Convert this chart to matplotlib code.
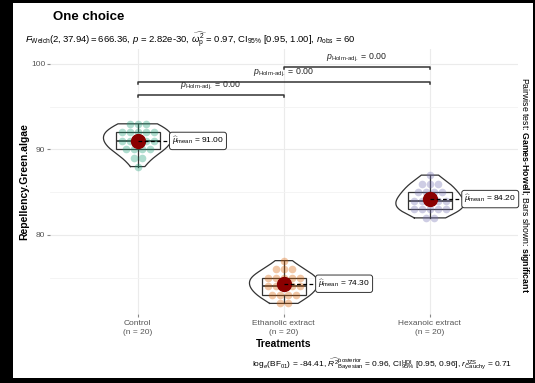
import matplotlib
matplotlib.use("Agg")
import matplotlib.pyplot as plt
from matplotlib.patches import Rectangle
import numpy as np

plt.rcParams['font.family'] = ['Liberation Sans', 'DejaVu Sans']
plt.rcParams['mathtext.fontset'] = 'custom'
plt.rcParams['mathtext.rm'] = 'Liberation Sans'
plt.rcParams['mathtext.it'] = 'Liberation Sans:italic'
plt.rcParams['mathtext.bf'] = 'Liberation Sans:bold'

# repellency scores per treatment, 20 observations each
treatments = ["Control", "Ethanolic extract", "Hexanoic extract"]
control = [93]*3 + [92]*5 + [91]*5 + [90]*4 + [89]*2 + [88]*1
ethanolic = [77]*1 + [76]*3 + [75]*5 + [74]*5 + [73]*4 + [72]*2
hexanoic = [87]*1 + [86]*3 + [85]*4 + [84]*5 + [83]*5 + [82]*2
groups = [control, ethanolic, hexanoic]
means = [91.00, 74.30, 84.20]
colors = ["#1B9E77", "#D95F02", "#7570B3"]

# pairwise comparisons (group index pairs) and their bracket heights
pairs = [(0, 1), (0, 2), (1, 2)]
bracket_y = [96.4, 97.9, 99.65]
pair_p = ["0.00", "0.00", "0.00"]

subtitle = (r"$F_{\mathrm{Welch}}(2, 37.94) = 666.36$, $p$ = 2.82e-30, "
            r"$\widehat{\omega_{\mathrm{p}}^{2}}$ = 0.97, CI$_{95\%}$ [0.95, 1.00], "
            r"$n_{\mathrm{obs}}$ = 60")
caption = (r"log$_{e}$(BF$_{01}$) = -84.41, "
           r"$\widehat{R^{2}}_{\mathrm{Bayesian}}^{\mathrm{posterior}}$ = 0.96, "
           r"CI$_{95\%}^{\mathrm{HDI}}$ [0.95, 0.96], "
           r"$r_{\mathrm{Cauchy}}^{\mathrm{JZS}}$ = 0.71")


def kde(vals, grid):
    vals = np.asarray(vals, float)
    sd = vals.std(ddof=1)
    iqr = np.subtract(*np.percentile(vals, [75, 25]))
    bw = 0.9 * min(sd, iqr / 1.34) * len(vals) ** (-0.2)
    z = (grid[:, None] - vals[None, :]) / bw
    return np.exp(-0.5 * z**2).sum(axis=1) / (len(vals) * bw * np.sqrt(2 * np.pi))


fig = plt.figure(figsize=(5.35, 3.83), dpi=100)
fig.patch.set_facecolor("black")
fig.patches.append(Rectangle((13/535, 5/383), 520/535, 375/383, transform=fig.transFigure,
                             facecolor="white", edgecolor="none", zorder=-10))

ax = fig.add_axes([50/535, 69/383, 467.6/535, 265/383])
ax.set_zorder(1)
ax.set_facecolor("none")
ax.set_xlim(0.4, 3.6)
ax.set_ylim(70.76, 101.75)

ax.set_yticks([80, 90, 100])
ax.set_yticks([75, 85, 95], minor=True)
ax.set_xticks([1, 2, 3])
ax.set_xticklabels([f"{t}\n(n = {len(g)})" for t, g in zip(treatments, groups)],
                   fontsize=6, color="#555555", linespacing=1.3)
ax.tick_params(axis="y", which="major", labelsize=6, labelcolor="#555555", length=2.5,
               width=0.8, color="#888888", pad=1)
ax.tick_params(axis="x", which="major", length=2.5, width=0.8, color="#888888", pad=2)
ax.tick_params(which="minor", length=0)
ax.grid(which="major", color="#EBEBEB", lw=0.8)
ax.grid(which="minor", axis="y", color="#F3F3F3", lw=0.6)
ax.set_axisbelow(True)
for s in ax.spines.values():
    s.set_visible(False)

# violins scaled by a shared maximum density
grids = [np.linspace(min(g), max(g), 200) for g in groups]
dens = [kde(g, gr) for g, gr in zip(groups, grids)]
dmax = max(d.max() for d in dens)
for i, (gr, d) in enumerate(zip(grids, dens)):
    x = i + 1
    w = d / dmax * 0.235
    xs = np.r_[x - w, (x + w)[::-1], x - w[0]]
    ys = np.r_[gr, gr[::-1], gr[0]]
    ax.fill(xs, ys, facecolor="white", alpha=0.2, edgecolor="none", zorder=2)
    ax.plot(xs, ys, color="#333333", lw=0.9, zorder=2)

# boxes without caps or fliers
ax.boxplot(groups, positions=[1, 2, 3], widths=0.3, showfliers=False, showcaps=False,
           patch_artist=True, manage_ticks=False,
           boxprops=dict(facecolor="none", edgecolor="#333333", lw=0.9),
           whiskerprops=dict(color="#333333", lw=0.9),
           medianprops=dict(color="#333333", lw=1.2), zorder=3)

# observations spread sideways at each value level
for i, g in enumerate(groups):
    vals, counts = np.unique(g, return_counts=True)
    for v, c in zip(vals, counts):
        offs = (np.arange(c) - (c - 1) / 2) * 0.055
        ax.plot(i + 1 + offs, [v] * c, "o", ms=5.5, color=colors[i], alpha=0.35, mec="none",
                zorder=4)

# means with labels
for i, m in enumerate(means):
    x = i + 1
    ax.plot(x, m, "o", ms=10, color="darkred", zorder=5)
    ax.plot([x, x + 0.22], [m, m], ls=(0, (3, 2)), color="black", lw=0.9, zorder=5)
    ax.text(x + 0.235, m, r"$\widehat{\mu}_{\mathrm{mean}}$ = " + f"{m:.2f}", fontsize=6,
            va="center", ha="left", zorder=6,
            bbox=dict(boxstyle="round,pad=0.3,rounding_size=0.3", fc="white", ec="#333333",
                      lw=0.7))

# significance brackets
for (a, b), y, p in zip(pairs, bracket_y, pair_p):
    ax.plot([a + 1, a + 1, b + 1, b + 1], [y - 0.25, y, y, y - 0.25], color="#333333",
            lw=1.1, zorder=3)
    ax.text((a + b + 2) / 2, y + 0.3, r"$p_{\mathrm{Holm\text{-}adj.}}$ = " + p, fontsize=6.3,
            ha="center", va="bottom", color="#222222")

ax.set_xlabel("Treatments", fontsize=7.5, fontweight="bold", labelpad=2)
ax.set_ylabel("Repellency.Green.algae", fontsize=7.5, fontweight="bold", labelpad=1)

fig.text(53/535, 1 - 17/383, "One choice", fontsize=9.5, fontweight="bold", va="center")
fig.text(25/535, 1 - 40/383, subtitle, fontsize=6.8, va="center")
fig.text(512/535, 1 - 364/383, caption, fontsize=6, va="center", ha="right")
fig.text(524/535, 1 - 185/383,
         r"Pairwise test: $\bf{Games}$-$\bf{Howell}$; Bars shown: $\bf{significant}$",
         fontsize=6.3, rotation=-90, va="center", ha="center")

fig.savefig("out.png", dpi=100, facecolor=fig.get_facecolor())
